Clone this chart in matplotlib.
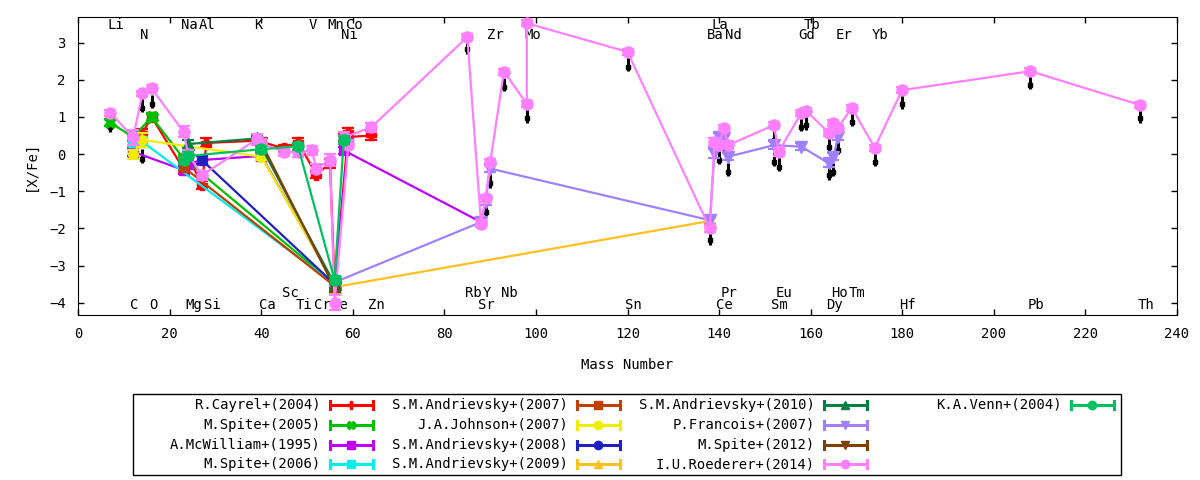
"""[X/Fe] vs mass number for several abundance studies, gnuplot-like look."""

import matplotlib

matplotlib.use("Agg")
import matplotlib.pyplot as plt
from matplotlib.lines import Line2D
from matplotlib.patches import Rectangle

plt.rcParams["font.family"] = ["DejaVu Sans Mono"]
plt.rcParams["font.size"] = 10

# --- data (mass number of main isotope, [X/Fe], error) ---
CAYREL_X = [14, 16, 23, 24, 27, 28, 39, 40, 45, 48, 52, 55, 56, 59, 58, 64]
CAYREL_Y = [0.56, 1.00, -0.40, -0.05, -0.83, 0.30, 0.36, 0.33, 0.15, 0.33, -0.55, -0.25, -3.55, 0.60, 0.45, 0.50]
CAYREL_E = [0.12, 0.10, 0.12, 0.10, 0.10, 0.12, 0.10, 0.08, 0.10, 0.10, 0.10, 0.12, 0.10, 0.10, 0.10, 0.12]

SPITE05_X = [7, 12, 16, 23, 56]
SPITE05_Y = [0.85, 0.45, 1.00, -0.12, -3.50]
SPITE05_E = [0.10, 0.10, 0.10, 0.10, 0.10]

MCWILLIAM_X = [12, 23, 24, 27, 40, 56, 59, 58, 88]
MCWILLIAM_Y = [0.06, -0.43, -0.27, -0.16, -0.05, -3.50, 0.30, 0.10, -1.83]
MCWILLIAM_E = [0.10, 0.10, 0.10, 0.10, 0.10, 0.10, 0.10, 0.10, 0.10]

SPITE06_X = [12, 14, 56]
SPITE06_Y = [0.33, 0.33, -3.50]
SPITE06_E = [0.12, 0.12, 0.10]

ANDR07_X = [23, 56]
ANDR07_Y = [-0.35, -3.55]
ANDR07_E = [0.10, 0.10]

JOHNSON_X = [12, 14, 40, 56]
JOHNSON_Y = [0.00, 0.38, -0.07, -3.50]
JOHNSON_E = [0.12, 0.20, 0.10, 0.10]

ANDR08_X = [27, 56]
ANDR08_Y = [-0.16, -3.50]
ANDR08_E = [0.10, 0.10]

ANDR09_X = [56, 138]
ANDR09_Y = [-3.58, -1.80]
ANDR09_E = [0.10, 0.10]

ANDR10_X = [24, 39, 56]
ANDR10_Y = [0.27, 0.42, -3.50]
ANDR10_E = [0.10, 0.10, 0.10]

FRANCOIS_X = [56, 88, 89, 90, 138, 139, 140, 141, 142, 152, 158, 164, 165, 166]
FRANCOIS_Y = [-3.45, -1.83, -1.28, -0.39, -1.78, 0.02, 0.47, 0.42, -0.07, 0.24, 0.20, -0.25, -0.07, 0.47]
FRANCOIS_E = [0.10, 0.10, 0.10, 0.10, 0.10, 0.12, 0.10, 0.10, 0.10, 0.10, 0.10, 0.10, 0.10, 0.10]

SPITE12_X = [40, 56]
SPITE12_Y = [0.30, -3.60]
SPITE12_E = [0.10, 0.10]

ROEDERER_X = [7, 12, 14, 16, 23, 24, 27, 39, 40, 45, 48, 51, 52, 55, 56, 59, 58, 64,
              85, 88, 89, 90, 93, 98, 98, 120, 138, 139, 140, 141, 142, 152, 153,
              158, 159, 164, 165, 166, 169, 174, 180, 208, 232]
ROEDERER_Y = [1.11, 0.45, 1.63, 1.77, 0.60, 0.00, -0.57, 0.40, 0.28, 0.06, 0.06, 0.10, -0.39, -0.16, -4.00, 0.25, 0.45, 0.72,
              3.15, -1.87, -1.19, -0.22, 2.22, 1.35, 3.52, 2.75, -2.00, 0.33, 0.24, 0.69, 0.24, 0.78, 0.06,
              1.11, 1.17, 0.57, 0.84, 0.71, 1.25, 0.17, 1.72, 2.23, 1.32]
ROEDERER_E = [0.08, 0.20, 0.08, 0.08, 0.15, 0.10, 0.12, 0.15, 0.12, 0.10, 0.15, 0.12, 0.12, 0.15, 0.20, 0.12, 0.15, 0.12,
              0.08, 0.10, 0.10, 0.10, 0.08, 0.08, 0.08, 0.08, 0.10, 0.10, 0.10, 0.08, 0.10, 0.08, 0.10,
              0.08, 0.08, 0.08, 0.08, 0.08, 0.08, 0.08, 0.08, 0.08, 0.08]

VENN_X = [23, 24, 40, 48, 56, 58]
VENN_Y = [-0.17, -0.05, 0.13, 0.21, -3.39, 0.38]
VENN_E = [0.10, 0.10, 0.10, 0.10, 0.10, 0.10]

# unlabeled black error marks under the Roederer points
BLACK_X = [7, 14, 14, 16, 85, 89, 90, 93, 98, 120, 138, 140, 141, 142, 152, 152, 153,
           158, 159, 164, 164, 165, 166, 169, 174, 180, 208, 232]
BLACK_Y = [0.72, 1.25, -0.12, 1.35, 2.82, -1.55, -0.79, 1.81, 0.96, 2.35, -2.32, -0.16, 0.15, -0.48, 0.38, -0.20, -0.34,
           0.73, 0.78, 0.20, -0.57, -0.48, 0.11, 0.87, -0.20, 1.34, 1.86, 0.96]

NAMES = ["R.Cayrel+(2004)", "M.Spite+(2005)", "A.McWilliam+(1995)", "M.Spite+(2006)",
         "S.M.Andrievsky+(2007)", "J.A.Johnson+(2007)", "S.M.Andrievsky+(2008)", "S.M.Andrievsky+(2009)",
         "S.M.Andrievsky+(2010)", "P.Francois+(2007)", "M.Spite+(2012)", "I.U.Roederer+(2014)",
         "K.A.Venn+(2004)"]

# element labels: name, mass number, row height
ELEM_NAMES = ["Li", "Na", "Al", "K", "V", "Mn", "Co", "La", "Tb",
              "N", "Ni", "Zr", "Mo", "Ba", "Nd", "Gd", "Er", "Yb",
              "C", "O", "Mg", "Si", "Ca", "Ti", "Cr", "Fe", "Zn", "Sr", "Sn", "Ce", "Sm", "Dy", "Hf", "Pb", "Th",
              "Sc", "Rb", "Y", "Nb", "Pr", "Eu", "Ho", "Tm"]
ELEM_MASS = [7, 23, 27, 39, 51, 55, 59, 139, 159,
             14, 58, 90, 98, 138, 142, 158, 166, 174,
             12, 16, 24, 28, 40, 48, 52, 56, 64, 88, 120, 140, 152, 164, 180, 208, 232,
             45, 85, 89, 93, 141, 153, 165, 169]
ELEM_Y = [3.47] * 9 + [3.20] * 9 + [-4.07] * 17 + [-3.74] * 8

series = [
    (CAYREL_X, CAYREL_Y, CAYREL_E, "#ff0000", "P", 7),
    (SPITE05_X, SPITE05_Y, SPITE05_E, "#00c000", "X", 8),
    (MCWILLIAM_X, MCWILLIAM_Y, MCWILLIAM_E, "#c000ff", "s", 7),
    (SPITE06_X, SPITE06_Y, SPITE06_E, "#00eeee", "s", 7),
    (ANDR07_X, ANDR07_Y, ANDR07_E, "#c04000", "s", 7),
    (JOHNSON_X, JOHNSON_Y, JOHNSON_E, "#eeee00", "o", 7),
    (ANDR08_X, ANDR08_Y, ANDR08_E, "#2020c0", "o", 7),
    (ANDR09_X, ANDR09_Y, ANDR09_E, "#ffc020", "^", 8),
    (ANDR10_X, ANDR10_Y, ANDR10_E, "#008040", "^", 8),
    (FRANCOIS_X, FRANCOIS_Y, FRANCOIS_E, "#a080ff", "v", 8),
    (SPITE12_X, SPITE12_Y, SPITE12_E, "#804000", "v", 8),
    (ROEDERER_X, ROEDERER_Y, ROEDERER_E, "#ff80ff", "o", 8),
    (VENN_X, VENN_Y, VENN_E, "#00c060", "o", 8),
]

W, H = 1200, 480
fig = plt.figure(figsize=(W / 100, H / 100), dpi=100)
ax = fig.add_axes([78.3 / W, 1 - 315 / H, (1176.7 - 78.3) / W, (315 - 17.3) / H])

for name, m, yy in zip(ELEM_NAMES, ELEM_MASS, ELEM_Y):
    ax.text(m - 0.6, yy, name, ha="left", va="center", fontsize=10, zorder=1)

ax.errorbar(BLACK_X, BLACK_Y, yerr=[[0.12] * len(BLACK_Y), [0.25] * len(BLACK_Y)],
            fmt="s", color="black", ms=3, elinewidth=2.2, capsize=0, zorder=2)

for i, (x, y, e, c, mk, ms) in enumerate(series):
    ax.errorbar(x, y, yerr=e, color=c, marker=mk, ms=ms, lw=1.6, elinewidth=1.6,
                capsize=4, capthick=1.6, zorder=3 + i)

ax.set_xlim(0, 240)
ax.set_ylim(-4.33, 3.68)
ax.set_xticks(range(0, 241, 20))
ax.set_yticks(range(-4, 4))
ax.tick_params(direction="in", top=True, right=True, length=4, width=1)
ax.tick_params(axis="x", pad=9)
ax.tick_params(axis="y", pad=9)
ax.set_xlabel("Mass Number", labelpad=12)
ax.set_ylabel("[X/Fe]", labelpad=8)

# legend drawn by hand, gnuplot style: right-aligned text, sample with caps
def fx(px):
    return px / W


def fy(py):
    return 1 - py / H


fig.add_artist(Rectangle((fx(133), fy(475)), (1121 - 133) / W, (475 - 394) / H,
                         fill=False, lw=1, ec="black", transform=fig.transFigure))
for i, (name, s) in enumerate(zip(NAMES, series)):
    c, mk = s[3], s[4]
    col, row = divmod(i, 4)
    dx = col * 247
    yrow = 404.7 + row * 19.9
    x0, x1 = 329.5 + dx, 372.5 + dx
    fig.text(fx(320.7 + dx), fy(yrow), name, ha="right", va="center", fontsize=10)
    fig.add_artist(Line2D([fx(x0), fx(x1)], [fy(yrow), fy(yrow)], color=c, lw=2.2,
                          transform=fig.transFigure))
    for xc in (x0, x1):
        fig.add_artist(Line2D([fx(xc), fx(xc)], [fy(yrow - 4), fy(yrow + 4)], color=c, lw=2.2,
                              transform=fig.transFigure))
    fig.add_artist(Line2D([fx((x0 + x1) / 2)], [fy(yrow)], color=c, marker=mk, ms=6, lw=0,
                          transform=fig.transFigure))

fig.savefig("out.png", dpi=100)
